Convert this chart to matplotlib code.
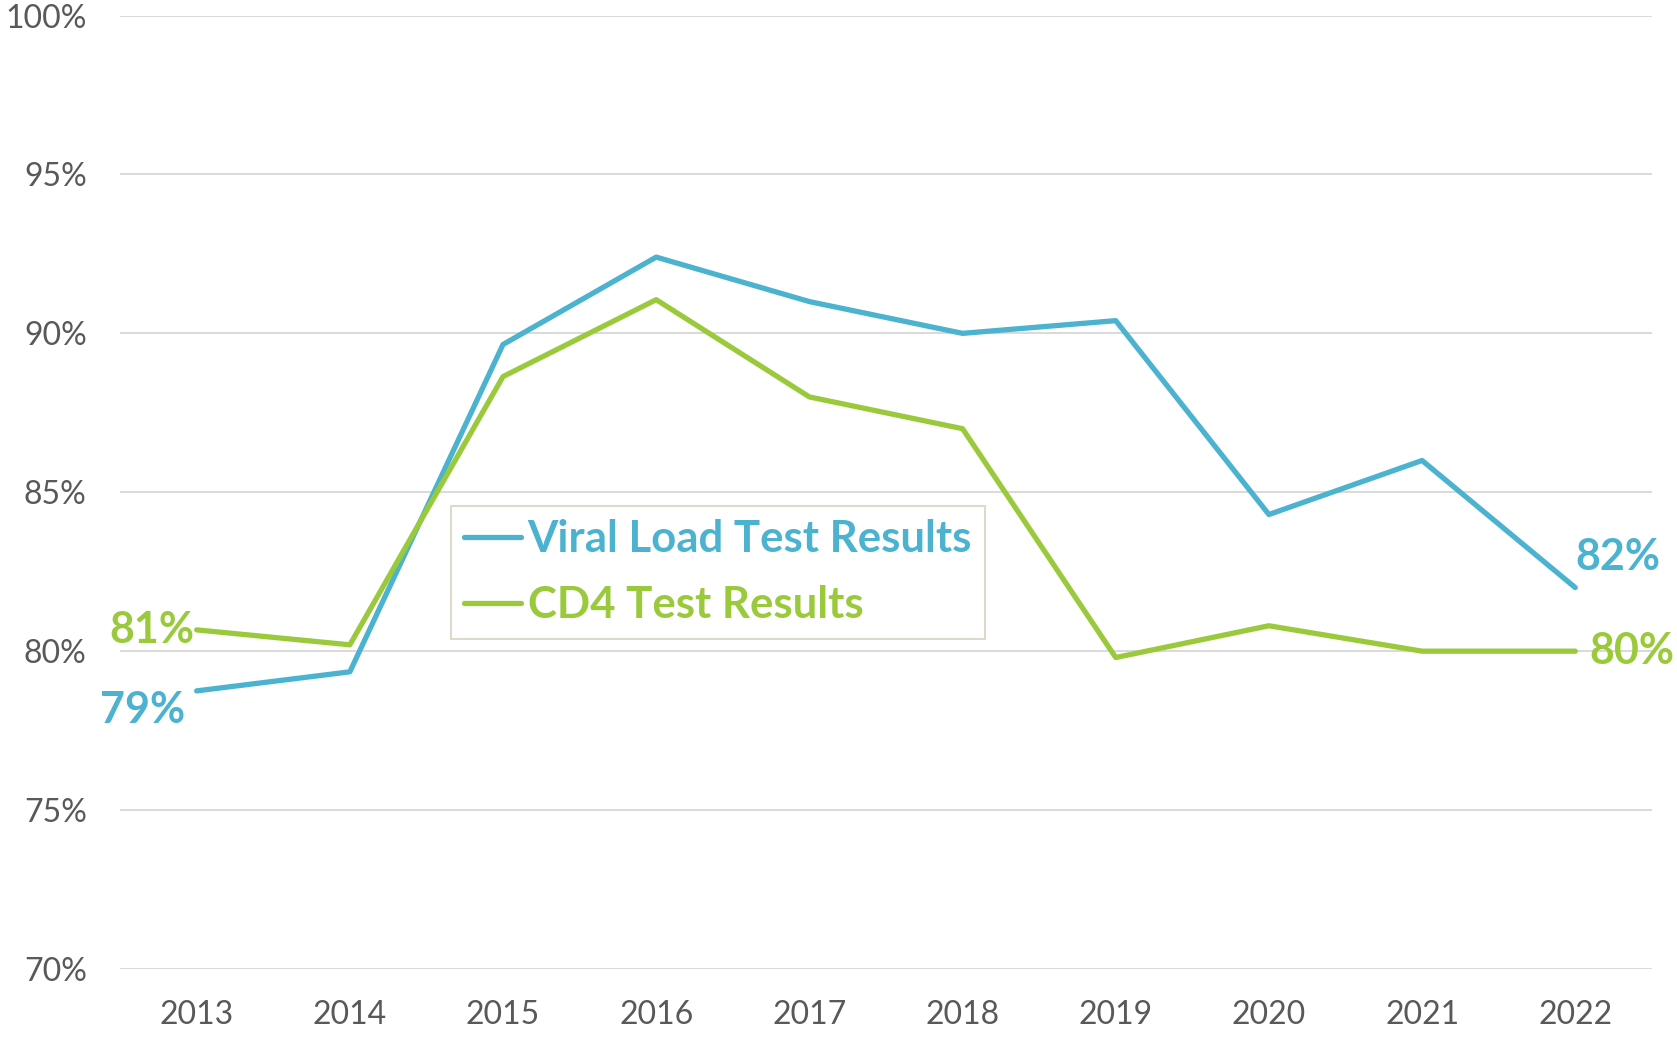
import matplotlib.pyplot as plt
import numpy as np

plt.rcParams['font.family'] = ['Lato', 'DejaVu Sans']

years = ['2013', '2014', '2015', '2016', '2017', '2018', '2019', '2020', '2021', '2022']
viral_load = [78.75, 79.35, 89.65, 92.4, 91.0, 90.0, 90.4, 84.3, 86.0, 82.0]
cd4 = [80.67, 80.2, 88.64, 91.06, 88.0, 87.0, 79.8, 80.8, 80.0, 80.0]
yticks = [70, 75, 80, 85, 90, 95, 100]

blue = '#4bb2cf'
green = '#9aca3c'

fig = plt.figure(figsize=(16.77, 10.37), dpi=100)
ax = fig.add_axes([0.0716, 0.0656, 0.9134, 0.9194])
x = np.arange(len(years))

ax.plot(x, viral_load, color=blue, lw=3.8, label='Viral Load Test Results', solid_capstyle='round', zorder=3)
ax.plot(x, cd4, color=green, lw=3.8, label='CD4 Test Results', solid_capstyle='round', zorder=3)

ax.set_xlim(-0.5, len(years) - 0.5)
ax.set_ylim(70, 100)
ax.set_yticks(yticks)
ax.set_yticklabels([f'{v}%' for v in yticks])
ax.set_xticks(x)
ax.set_xticklabels(years)
ax.grid(axis='y', color='#d9d9d9', lw=1.4)
ax.set_axisbelow(True)
for s in ax.spines.values():
    s.set_visible(False)
ax.tick_params(axis='y', length=0, pad=24, labelsize=23, labelcolor='#595959')
ax.tick_params(axis='x', length=0, pad=22, labelsize=23, labelcolor='#595959')

# end-point labels
lab = dict(fontsize=31, fontweight='bold')
ax.annotate(f'{viral_load[0]:.0f}%', (x[0], viral_load[0]), xytext=(-8, -14), textcoords='offset points',
            ha='right', va='center', color=blue, **lab)
ax.annotate(f'{cd4[0]:.0f}%', (x[0], cd4[0]), xytext=(-2, 0), textcoords='offset points',
            ha='right', va='center', color=green, **lab)
ax.annotate(f'{viral_load[-1]:.0f}%', (x[-1], viral_load[-1]), xytext=(0, 22), textcoords='offset points',
            ha='left', va='center', color=blue, **lab)
ax.annotate(f'{cd4[-1]:.0f}%', (x[-1], cd4[-1]), xytext=(10, 0), textcoords='offset points',
            ha='left', va='center', color=green, **lab)

leg = ax.legend(loc='upper left', bbox_to_anchor=(0.269, 0.512), bbox_transform=fig.transFigure,
                prop={'size': 31.5, 'weight': 'bold'}, labelcolor='linecolor', frameon=True, fancybox=False,
                edgecolor='#d8d0c0', handlelength=1.3, handletextpad=0.15, borderpad=0.3,
                labelspacing=0.6, borderaxespad=0)
leg.get_frame().set_linewidth(1.5)

fig.savefig('out.png', dpi=100)
